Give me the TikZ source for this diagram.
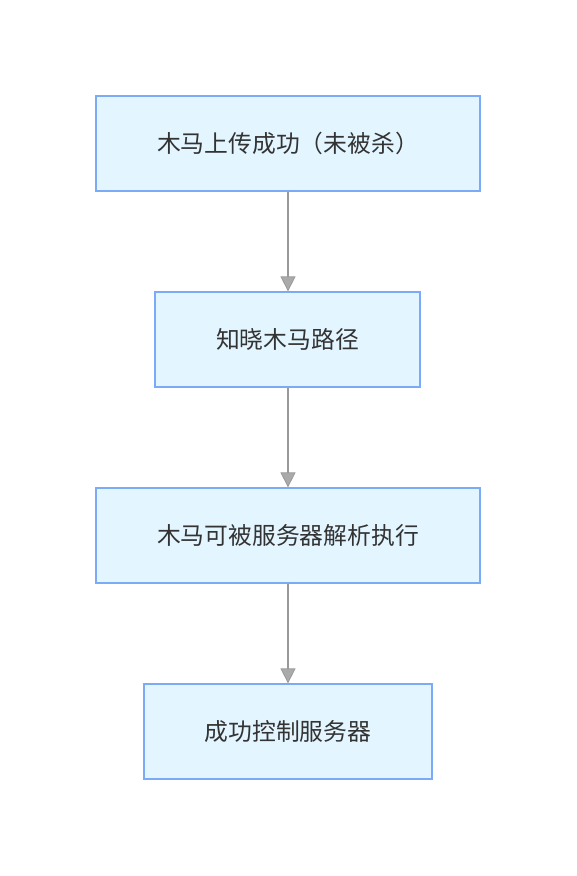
\documentclass[tikz,border=0pt]{standalone}
\usepackage{fontspec}
\newfontfamily\cjk{Noto Sans CJK SC}
\usetikzlibrary{arrows.meta}
\definecolor{boxfill}{HTML}{E3F5FE}
\definecolor{boxline}{HTML}{7BAAF7}
\definecolor{arrowc}{HTML}{999999}
\definecolor{headc}{HTML}{AAAAAA}
\definecolor{txt}{HTML}{333333}
\tikzset{
  flowbox/.style={draw=boxline, fill=boxfill, line width=1.2pt, minimum height=95pt, inner sep=0pt, font=\cjk\fontsize{23.8}{26}\selectfont, text=txt},
  flowarrow/.style={draw=arrowc, line width=1.2pt, -{Triangle[length=15pt,width=15pt,fill=headc,color=arrowc,line width=0.8pt]}}
}
\begin{document}
\begin{tikzpicture}[x=1pt,y=-1pt]
\useasboundingbox (0,0) rectangle (576,876);
\node[flowbox, minimum width=384pt] (a) at (288,143.5) {木马上传成功（未被杀）};
\node[flowbox, minimum width=265pt] (b) at (287.5,339.5) {知晓木马路径};
\node[flowbox, minimum width=384pt] (c) at (288,535.5) {木马可被服务器解析执行};
\node[flowbox, minimum width=288pt] (d) at (288,731.5) {成功控制服务器};
\draw[flowarrow] (a.south) -- (a.south |- b.north);
\draw[flowarrow] (c.north |- b.south) -- (c.north);
\draw[flowarrow] (c.south) -- (c.south |- d.north);
\end{tikzpicture}
\end{document}
